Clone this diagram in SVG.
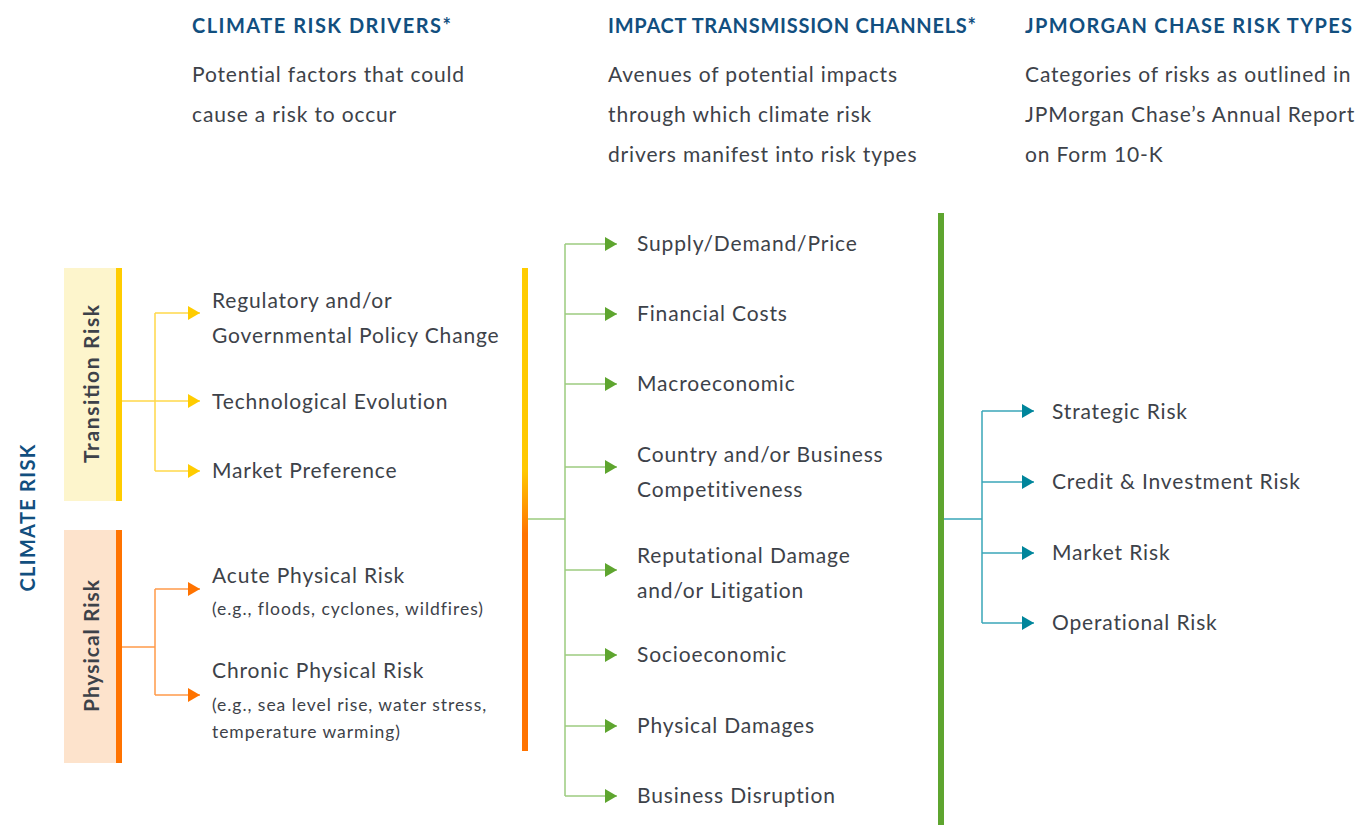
<svg xmlns="http://www.w3.org/2000/svg" width="1355" height="825" viewBox="0 0 1355 825">
<defs>
<style>
.t{font-family:Lato,"Open Sans","Liberation Sans",sans-serif;font-size:21px;fill:#3d4249;letter-spacing:0.85px}
.s{font-family:Lato,"Open Sans","Liberation Sans",sans-serif;font-size:17.5px;fill:#3d4249;letter-spacing:0.95px}
.h{font-family:Lato,"Open Sans","Liberation Sans",sans-serif;font-size:20px;font-weight:bold;fill:#124f7f}
.v{font-family:Lato,"Open Sans","Liberation Sans",sans-serif;font-size:21px;font-weight:bold;fill:#3d4249}
.ly{stroke:#ffd84a;stroke-width:1.5;fill:none}
.lo{stroke:#ff9a4a;stroke-width:1.5;fill:none}
.lg{stroke:#9ccb7f;stroke-width:1.5;fill:none}
.lt{stroke:#3aa6b8;stroke-width:1.5;fill:none}
</style>
<marker id="ay" markerUnits="userSpaceOnUse" markerWidth="13" markerHeight="15" refX="12" refY="7" orient="auto"><path d="M0,0 L12,7 L0,14 Z" fill="#ffcc00"/></marker>
<marker id="ao" markerUnits="userSpaceOnUse" markerWidth="13" markerHeight="15" refX="12" refY="7" orient="auto"><path d="M0,0 L12,7 L0,14 Z" fill="#ff7300"/></marker>
<marker id="ag" markerUnits="userSpaceOnUse" markerWidth="13" markerHeight="15" refX="12" refY="7" orient="auto"><path d="M0,0 L12,7 L0,14 Z" fill="#5ea52f"/></marker>
<marker id="at" markerUnits="userSpaceOnUse" markerWidth="13" markerHeight="15" refX="12" refY="7" orient="auto"><path d="M0,0 L12,7 L0,14 Z" fill="#00859b"/></marker>
<linearGradient id="gy" x1="0" y1="0" x2="0" y2="1">
<stop offset="0" stop-color="#ffcc00"/><stop offset="0.42" stop-color="#ffc800"/><stop offset="0.55" stop-color="#ff7300"/><stop offset="1" stop-color="#ff7300"/>
</linearGradient>
</defs>
<rect width="1355" height="825" fill="#ffffff"/>

<g id="headers">
<text class="h" x="192" y="33" textLength="259" lengthAdjust="spacing">CLIMATE RISK DRIVERS*</text>
<text class="t" x="192" y="82">Potential factors that could</text>
<text class="t" x="192" y="122">cause a risk to occur</text>
<text class="h" x="608" y="33" textLength="368" lengthAdjust="spacing">IMPACT TRANSMISSION CHANNELS*</text>
<text class="t" x="608" y="82">Avenues of potential impacts</text>
<text class="t" x="608" y="122">through which climate risk</text>
<text class="t" x="608" y="162">drivers manifest into risk types</text>
<text class="h" x="1025" y="33" textLength="327" lengthAdjust="spacing">JPMORGAN CHASE RISK TYPES</text>
<text class="t" x="1025" y="82">Categories of risks as outlined in</text>
<text class="t" x="1025" y="122">JPMorgan Chase’s Annual Report</text>
<text class="t" x="1025" y="162">on Form 10-K</text>
</g>

<g id="climate-risk">
<text class="h" transform="translate(27,518) rotate(-90)" text-anchor="middle" dominant-baseline="central" textLength="147" lengthAdjust="spacing">CLIMATE RISK</text>
</g>

<g id="transition-risk">
<rect x="64" y="268" width="52" height="233" fill="#fdf5cc"/>
<rect x="116" y="268" width="6" height="233" fill="#ffcc00"/>
<text class="v" transform="translate(90,384) rotate(-90)" text-anchor="middle" dominant-baseline="central" textLength="158" lengthAdjust="spacing">Transition Risk</text>
</g>

<g id="physical-risk">
<rect x="64" y="530" width="52" height="233" fill="#fde3cc"/>
<rect x="116" y="530" width="6" height="233" fill="#ff7300"/>
<text class="v" transform="translate(90,646) rotate(-90)" text-anchor="middle" dominant-baseline="central" textLength="132" lengthAdjust="spacing">Physical Risk</text>
</g>

<g id="drivers">
<text class="t" x="212" y="308">Regulatory and/or</text>
<text class="t" x="212" y="343">Governmental Policy Change</text>
<text class="t" x="212" y="409">Technological Evolution</text>
<text class="t" x="212" y="478">Market Preference</text>
<text class="t" x="212" y="583">Acute Physical Risk</text>
<text class="s" x="212" y="615">(e.g., floods, cyclones, wildfires)</text>
<text class="t" x="212" y="678">Chronic Physical Risk</text>
<text class="s" x="212" y="711">(e.g., sea level rise, water stress,</text>
<text class="s" x="212" y="738">temperature warming)</text>
<rect x="522" y="268" width="6" height="483" fill="url(#gy)"/>
</g>

<g id="channels">
<text class="t" x="637" y="251">Supply/Demand/Price</text>
<text class="t" x="637" y="321">Financial Costs</text>
<text class="t" x="637" y="391">Macroeconomic</text>
<text class="t" x="637" y="462">Country and/or Business</text>
<text class="t" x="637" y="497">Competitiveness</text>
<text class="t" x="637" y="563">Reputational Damage</text>
<text class="t" x="637" y="598">and/or Litigation</text>
<text class="t" x="637" y="662">Socioeconomic</text>
<text class="t" x="637" y="733">Physical Damages</text>
<text class="t" x="637" y="803">Business Disruption</text>
<rect x="938" y="213" width="6" height="612" fill="#5ea52f"/>
</g>

<g id="risk-types">
<text class="t" x="1052" y="419">Strategic Risk</text>
<text class="t" x="1052" y="489">Credit &amp; Investment Risk</text>
<text class="t" x="1052" y="560">Market Risk</text>
<text class="t" x="1052" y="630">Operational Risk</text>
</g>

<g id="connectors">
<path class="ly" d="M122,401 H155 M155,313 V471"/>
<path class="ly" d="M155,313 H200" marker-end="url(#ay)"/>
<path class="ly" d="M155,401 H200" marker-end="url(#ay)"/>
<path class="ly" d="M155,471 H200" marker-end="url(#ay)"/>
<path class="lo" d="M122,647 H155 M155,589 V695"/>
<path class="lo" d="M155,589 H200" marker-end="url(#ao)"/>
<path class="lo" d="M155,695 H200" marker-end="url(#ao)"/>
<path class="lg" d="M528,519 H565 M565,244 V796"/>
<path class="lg" d="M565,244 H617" marker-end="url(#ag)"/>
<path class="lg" d="M565,314 H617" marker-end="url(#ag)"/>
<path class="lg" d="M565,384 H617" marker-end="url(#ag)"/>
<path class="lg" d="M565,467 H617" marker-end="url(#ag)"/>
<path class="lg" d="M565,570 H617" marker-end="url(#ag)"/>
<path class="lg" d="M565,655 H617" marker-end="url(#ag)"/>
<path class="lg" d="M565,726 H617" marker-end="url(#ag)"/>
<path class="lg" d="M565,796 H617" marker-end="url(#ag)"/>
<path class="lt" d="M944,519 H982 M982,411 V623"/>
<path class="lt" d="M982,411 H1034" marker-end="url(#at)"/>
<path class="lt" d="M982,482 H1034" marker-end="url(#at)"/>
<path class="lt" d="M982,553 H1034" marker-end="url(#at)"/>
<path class="lt" d="M982,623 H1034" marker-end="url(#at)"/>
</g>
</svg>
